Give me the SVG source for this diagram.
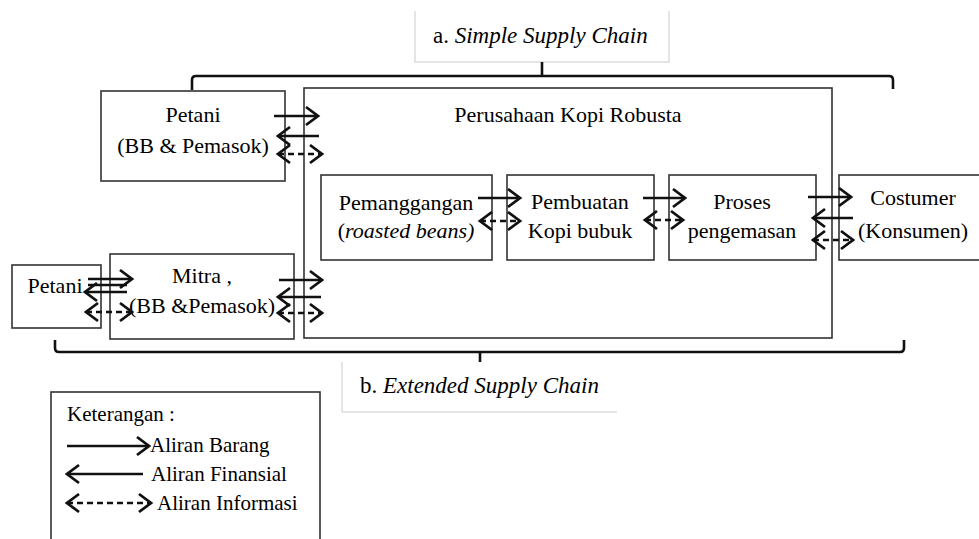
<svg xmlns="http://www.w3.org/2000/svg" width="979" height="539" viewBox="0 0 979 539">
<style>
.box{fill:#fff;stroke:#333;stroke-width:1.6}
.lbl{fill:none;stroke:#ddd;stroke-width:1.5}
.t{font-family:"Liberation Serif","Times New Roman",serif;font-size:22px;fill:#000}
.tl{font-family:"Liberation Serif","Times New Roman",serif;font-size:21px;fill:#000}
.c{text-anchor:middle}
.i{font-style:italic}
.brace{fill:none;stroke:#111;stroke-width:2.6}
.ar{fill:none;stroke:#111;stroke-width:2.7}
.da{fill:none;stroke:#111;stroke-width:2.5;stroke-dasharray:6 4}
</style>
<defs>
<marker id="h" markerUnits="userSpaceOnUse" markerWidth="18" markerHeight="22" viewBox="0 0 18 22" refX="14" refY="11" orient="auto-start-reverse">
<path d="M2,2 L14,11 L2,20" fill="none" stroke="#111" stroke-width="2.8"/>
</marker>
</defs>

<g id="label-simple">
<path class="lbl" d="M415,11 L415,62 L669,62 L669,11"/>
<text class="t" x="433" y="43" style="font-size:23px">a. <tspan class="i">Simple Supply Chain</tspan></text>
</g>

<g id="label-extended">
<path class="lbl" d="M342,362 L342,412 L617,412"/>
<text class="t" x="360" y="393" style="font-size:23px">b. <tspan class="i">Extended Supply Chain</tspan></text>
</g>

<g id="braces">
<path class="brace" d="M192,90 L192,80 Q192,76 196,76 L889,76 Q893,76 893,80 L893,89"/>
<path class="brace" d="M542,76 L542,62"/>
<path class="brace" d="M55,340 L55,348 Q55,352 59,352 L900,352 Q904,352 904,348 L904,340"/>
<path class="brace" d="M480,352 L480,362"/>
</g>

<g id="petani-top">
<rect class="box" x="101" y="91" width="184" height="90"/>
<text class="t c" x="193" y="122">Petani</text>
<text class="t c" x="193" y="153">(BB &amp; Pemasok)</text>
</g>

<g id="perusahaan">
<rect class="box" x="304" y="88" width="528" height="250"/>
<text class="t c" x="568" y="122">Perusahaan Kopi Robusta</text>
</g>

<g id="pemanggangan">
<rect class="box" x="321" y="175" width="171" height="85"/>
<text class="t c" x="406" y="210">Pemanggangan</text>
<text class="t c" x="406" y="238">(<tspan class="i">roasted beans)</tspan></text>
</g>

<g id="pembuatan">
<rect class="box" x="507" y="175" width="147" height="85"/>
<text class="t c" x="580" y="209">Pembuatan</text>
<text class="t c" x="580" y="238">Kopi bubuk</text>
</g>

<g id="proses">
<rect class="box" x="669" y="175" width="147" height="85"/>
<text class="t c" x="742" y="209">Proses</text>
<text class="t c" x="742" y="238">pengemasan</text>
</g>

<g id="costumer">
<rect class="box" x="839" y="175" width="145" height="85"/>
<text class="t c" x="913" y="205">Costumer</text>
<text class="t c" x="913" y="238">(Konsumen)</text>
</g>

<g id="petani-left">
<rect class="box" x="12" y="265" width="89" height="63"/>
<text class="t c" x="55" y="293">Petani</text>
</g>

<g id="mitra">
<rect class="box" x="110" y="254" width="184" height="85"/>
<text class="t c" x="202" y="283">Mitra ,</text>
<text class="t c" x="202" y="313">(BB &amp;Pemasok)</text>
</g>

<g id="connectors">
<path class="ar" d="M274,116 L318,116" marker-end="url(#h)"/>
<path class="ar" d="M278,136 L319,136" marker-start="url(#h)"/>
<path class="da" d="M278,154 L322,154" marker-start="url(#h)" marker-end="url(#h)"/>
<path class="ar" d="M88,279 L132,279" marker-end="url(#h)"/>
<path class="ar" d="M88,285 L127,285"/>
<path class="ar" d="M85,292 L127,292" marker-start="url(#h)"/>
<path class="da" d="M86,312 L132,312" marker-start="url(#h)" marker-end="url(#h)"/>
<path class="ar" d="M279,280 L322,280" marker-end="url(#h)"/>
<path class="ar" d="M278,297 L321,297" marker-start="url(#h)"/>
<path class="da" d="M278,313 L322,313" marker-start="url(#h)" marker-end="url(#h)"/>
<path class="ar" d="M478,198 L520,198" marker-end="url(#h)"/>
<path class="da" d="M480,221 L520,221" marker-start="url(#h)" marker-end="url(#h)"/>
<path class="ar" d="M643,198 L685,198" marker-end="url(#h)"/>
<path class="da" d="M645,220 L683,220" marker-start="url(#h)" marker-end="url(#h)"/>
<path class="ar" d="M808,197 L851,197" marker-end="url(#h)"/>
<path class="ar" d="M813,218 L853,218" marker-start="url(#h)"/>
<path class="da" d="M813,240 L853,240" marker-start="url(#h)" marker-end="url(#h)"/>
</g>

<g id="legend">
<rect class="box" x="51" y="392" width="269" height="160"/>
<text class="tl" x="67" y="421">Keterangan :</text>
<path class="ar" d="M67,446 L149,446" marker-end="url(#h)"/>
<text class="tl" x="150" y="452">Aliran Barang</text>
<path class="ar" d="M67,474 L143,474" marker-start="url(#h)"/>
<text class="tl" x="151" y="481">Aliran Finansial</text>
<path class="da" d="M67,503 L151,503" marker-start="url(#h)" marker-end="url(#h)"/>
<text class="tl" x="157" y="510">Aliran Informasi</text>
</g>
</svg>
